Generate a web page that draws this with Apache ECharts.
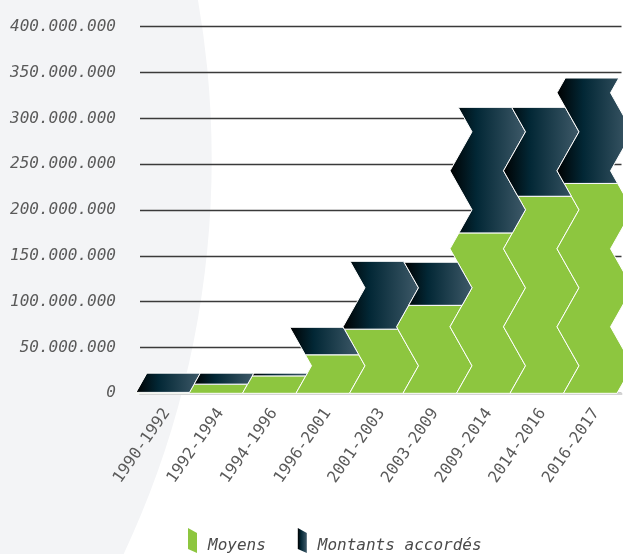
<!DOCTYPE html>
<html><head><meta charset="utf-8">
<script src="https://cdn.jsdelivr.net/npm/echarts@6/dist/echarts.min.js"></script>
<style>html,body{margin:0;padding:0;background:#fff}#c{width:623px;height:554px}</style>
</head><body><div id="c"></div>
<script>
const categories = ['1990-1992','1992-1994','1994-1996','1996-2001','2001-2003','2003-2009','2009-2014','2014-2016','2016-2017'];
const moyens   = [1e6, 10e6, 19e6, 42e6, 70e6, 96e6, 175e6, 215e6, 229e6];
const montants = [21e6, 12e6, 3e6, 30e6, 74e6, 47e6, 137e6, 97e6, 115e6];
const yMin = 0, yMax = 400e6, yStep = 50e6;
const seriesNames = ['Moyens', 'Montants accordés'];

const GREEN = '#8dc63f';
const DARK = {type:'linear', x:0, y:0, x2:1, y2:0, colorStops:[
  {offset:0, color:'#000000'}, {offset:0.35, color:'#022735'}, {offset:1, color:'#3f5a69'}]};

const ZZ = {amp: 11, half: 39, phase: -11.5};
function zOff(s){
  const t = (s - ZZ.phase) / ZZ.half;
  const k = Math.floor(t), f = t - k;
  return (((k % 2) + 2) % 2 === 0) ? (-ZZ.amp + 2*ZZ.amp*f) : (ZZ.amp - 2*ZZ.amp*f);
}
function makeRender(fill){
  return function(params, api){
    const i = api.value(0), lo = api.value(1), hi = api.value(2);
    const c0 = api.coord([i, 0]);
    const w = api.size([1, 0])[0];
    const base = c0[1];
    const L = c0[0] - w/2, R = c0[0] + w/2;
    const sLo = base - api.coord([i, lo])[1];
    const sHi = base - api.coord([i, hi])[1];
    const ss = [sLo];
    const k0 = Math.ceil((sLo - ZZ.phase)/ZZ.half), k1 = Math.floor((sHi - ZZ.phase)/ZZ.half);
    for (let k = k0; k <= k1; k++){ const s = ZZ.phase + k*ZZ.half; if (s > sLo && s < sHi) ss.push(s); }
    ss.push(sHi);
    const pts = [];
    for (const s of ss) pts.push([L + zOff(s), base - s]);
    for (let j = ss.length - 1; j >= 0; j--) pts.push([R + zOff(ss[j]), base - ss[j]]);
    return {type:'polygon', shape:{points: pts}, style:{fill: fill, stroke:'#ffffff', lineWidth:1}};
  };
}
const greenData = categories.map((c, i) => [i, 0, moyens[i]]);
const darkData = categories.map((c, i) => [i, moyens[i], moyens[i] + montants[i]]);

const fmt = v => String(v).replace(/\B(?=(\d{3})+(?!\d))/g, '.');
const chart = echarts.init(document.getElementById('c'), null, {renderer:'canvas'});
chart.setOption({
  animation: false,
  backgroundColor: '#ffffff',
  graphic: [{type:'circle', z:-100, silent:true, shape:{cx:-717.7, cy:159.2, r:929.4}, style:{fill:'#f3f4f6'}}],
  grid: [
    {left:140, width:481.5, top:26.7, bottom:160.7},
    {left:140, width:488, top:26.7, bottom:160.7}
  ],
  xAxis: [
    {type:'category', data: categories, gridIndex:0,
     axisLine:{show:true, lineStyle:{color:'#d4d4d4', width:2}}, axisTick:{show:false}, axisLabel:{show:false}},
    {type:'category', data: categories, gridIndex:1,
     axisLine:{show:false}, axisTick:{show:false},
     axisLabel:{rotate:55, margin:17, fontFamily:'DejaVu Sans Mono', fontSize:16, color:'#5a5a5a'}}
  ],
  yAxis: [
    {type:'value', gridIndex:0, min:yMin, max:yMax, interval:yStep,
     axisLine:{show:false}, axisTick:{show:false},
     splitLine:{show:true, lineStyle:{color:'#3a3a3a', width:1.3}},
     axisLabel:{margin:24, formatter: fmt, fontFamily:'DejaVu Sans Mono', fontStyle:'italic', fontSize:16, color:'#5a5a5a'}},
    {type:'value', gridIndex:1, min:yMin, max:yMax, show:false, splitLine:{show:false}}
  ],
  legend: {
    left:188, top:528, padding:0, itemWidth:9, itemHeight:25, itemGap:32,
    data:[
      {name:seriesNames[0], icon:'path://M0,0 L9,5 L9,25 L0,21 Z'},
      {name:seriesNames[1], icon:'path://M0,0 L9,5 L9,25 L0,21 Z'}
    ],
    formatter: '{t|{name}}',
    textStyle:{fontFamily:'DejaVu Sans Mono', fontStyle:'italic', fontSize:16, color:'#4a4a4a',
      rich:{t:{fontFamily:'DejaVu Sans Mono', fontStyle:'italic', fontSize:16, color:'#4a4a4a', padding:[10,0,0,6]}}}
  },
  series: [
    {name:seriesNames[0], type:'custom', xAxisIndex:0, yAxisIndex:0, renderItem: makeRender(GREEN),
     itemStyle:{color:GREEN}, encode:{x:0, y:[1,2]}, data: greenData},
    {name:seriesNames[1], type:'custom', xAxisIndex:0, yAxisIndex:0, renderItem: makeRender(DARK),
     itemStyle:{color:DARK}, encode:{x:0, y:[1,2]}, data: darkData}
  ]
});
</script></body></html>
